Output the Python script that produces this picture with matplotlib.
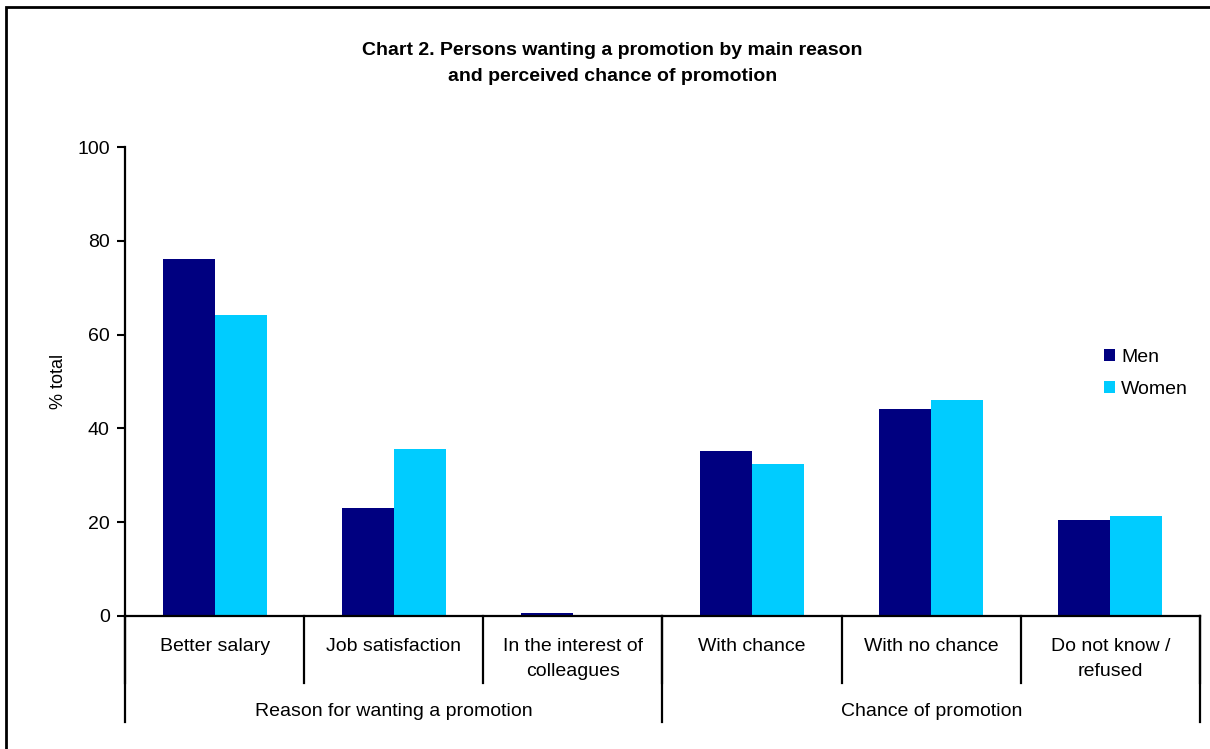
import matplotlib.pyplot as plt
from matplotlib.patches import Rectangle
import matplotlib.transforms as mtransforms
import numpy as np

plt.rcParams['font.family'] = ['Liberation Sans', 'DejaVu Sans']

categories = ['Better salary', 'Job satisfaction', 'In the interest of\ncolleagues',
              'With chance', 'With no chance', 'Do not know /\nrefused']
groups = ['Reason for wanting a promotion', 'Chance of promotion']
group_sizes = [3, 3]
men = [76.1, 23.0, 0.6, 35.2, 44.1, 20.5]
women = [64.1, 35.6, 0.0, 32.4, 46.0, 21.3]

fig = plt.figure(figsize=(12.1, 7.49), dpi=100)
ax = fig.add_axes([0.1033, 0.1776, 0.8884, 0.6261])

x = np.arange(len(categories))
w = 0.29
ax.bar(x - w / 2, men, w, color='#000080', label='Men')
ax.bar(x + w / 2, women, w, color='#00ccff', label='Women')

ax.set_xlim(-0.5, len(categories) - 0.5)
ax.set_ylim(0, 100)
ax.set_yticks(range(0, 101, 20))
ax.tick_params(axis='y', direction='out', length=6, width=1.5, labelsize=14, pad=5)
ax.set_xticks([])
for s in ['top', 'right']:
    ax.spines[s].set_visible(False)
ax.spines['left'].set_linewidth(1.6)
ax.spines['bottom'].set_linewidth(1.6)
ax.set_ylabel('% total', fontsize=13, labelpad=7)

# category and group separators below the axis
trans = mtransforms.blended_transform_factory(ax.transData, ax.transAxes)
for b in np.arange(len(categories) + 1) - 0.5:
    ax.plot([b, b], [0, -0.143], color='black', lw=1.6, transform=trans, clip_on=False)
for i, c in enumerate(categories):
    ax.text(i, -0.047, c, transform=trans, ha='center', va='top', fontsize=14, linespacing=1.63)
start = -0.5
ax.plot([start, start], [0, -0.226], color='black', lw=1.6, transform=trans, clip_on=False)
for g, n in zip(groups, group_sizes):
    end = start + n
    ax.plot([end, end], [0, -0.226], color='black', lw=1.6, transform=trans, clip_on=False)
    ax.text((start + end) / 2, -0.204, g, transform=trans, ha='center', va='center', fontsize=14)
    start = end

ax.legend(loc='center left', bbox_to_anchor=(0.894, 0.517), frameon=False, fontsize=14,
          handlelength=0.57, handleheight=0.57, handletextpad=0.35, labelspacing=0.75)

fig.text(0.506, 0.9155, 'Chart 2. Persons wanting a promotion by main reason\nand perceived chance of promotion',
         ha='center', va='center', fontsize=14, fontweight='bold', linespacing=1.66)

fig.patches.append(Rectangle((6 / 1210, -0.01), 1.1, 1 - 7 / 749 + 0.01, transform=fig.transFigure,
                             fill=False, edgecolor='black', lw=2))

fig.savefig('out.png', dpi=100)
